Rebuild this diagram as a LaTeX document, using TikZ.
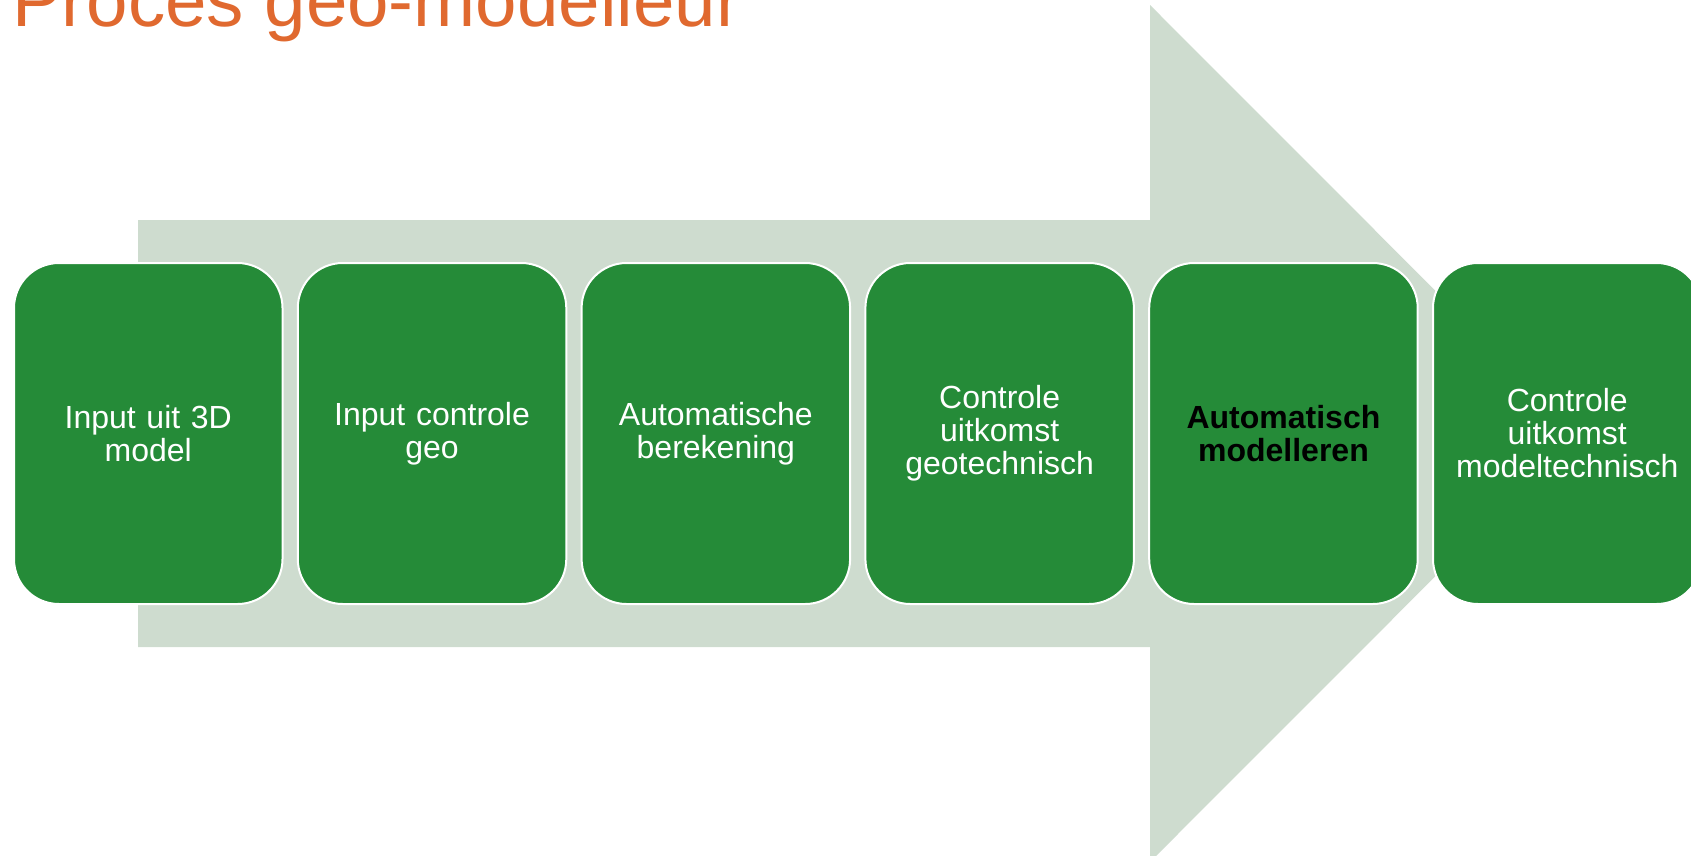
\documentclass[tikz,border=0pt]{standalone}
\usepackage{fontspec}
\setmainfont{Liberation Sans}
\definecolor{arrowfill}{HTML}{CEDCCF}
\definecolor{boxgreen}{HTML}{258B38}
\definecolor{titleorange}{HTML}{E0692F}
\begin{document}
\begin{tikzpicture}[x=1pt,y=-1pt,
  stepbox/.style={rectangle, rounded corners=45pt, fill=boxgreen, draw=white, line width=2pt,
    minimum width=268.5pt, minimum height=341pt, anchor=north west, inner sep=0pt,
    text=white, align=center, text width=250pt, font=\fontsize{32}{33}\selectfont},
  boldtext/.style={text=black, font=\fontsize{32}{33}\selectfont\bfseries}]
\useasboundingbox (0,0) rectangle (1691,855);
\begin{scope}
\clip (0,0) rectangle (1691,855);
% big background arrow
\fill[arrowfill] (138,220) -- (1150,220) -- (1150,5) -- (1578,433.5) -- (1150,862) -- (1150,647) -- (138,647) -- cycle;
% title
\node[anchor=base west, inner sep=0pt, text=titleorange, font=\fontsize{74.5}{80}\selectfont] (title) at (12,26) {Proces geo-modelleur};
% steps
\node[stepbox] (s1) at (13,262) {Input uit 3D\\model};
\node[stepbox] (s2) at (296.8,262) {Input controle\\geo};
\node[stepbox] (s3) at (580.6,262) {Automatische\\berekening};
\node[stepbox] (s4) at (864.4,262) {Controle\\uitkomst\\geotechnisch};
\node[stepbox, boldtext] (s5) at (1148.2,262) {Automatisch\\modelleren};
\node[stepbox] (s6) at (1432,262) {Controle\\uitkomst\\modeltechnisch};
\end{scope}
\end{tikzpicture}
\end{document}
